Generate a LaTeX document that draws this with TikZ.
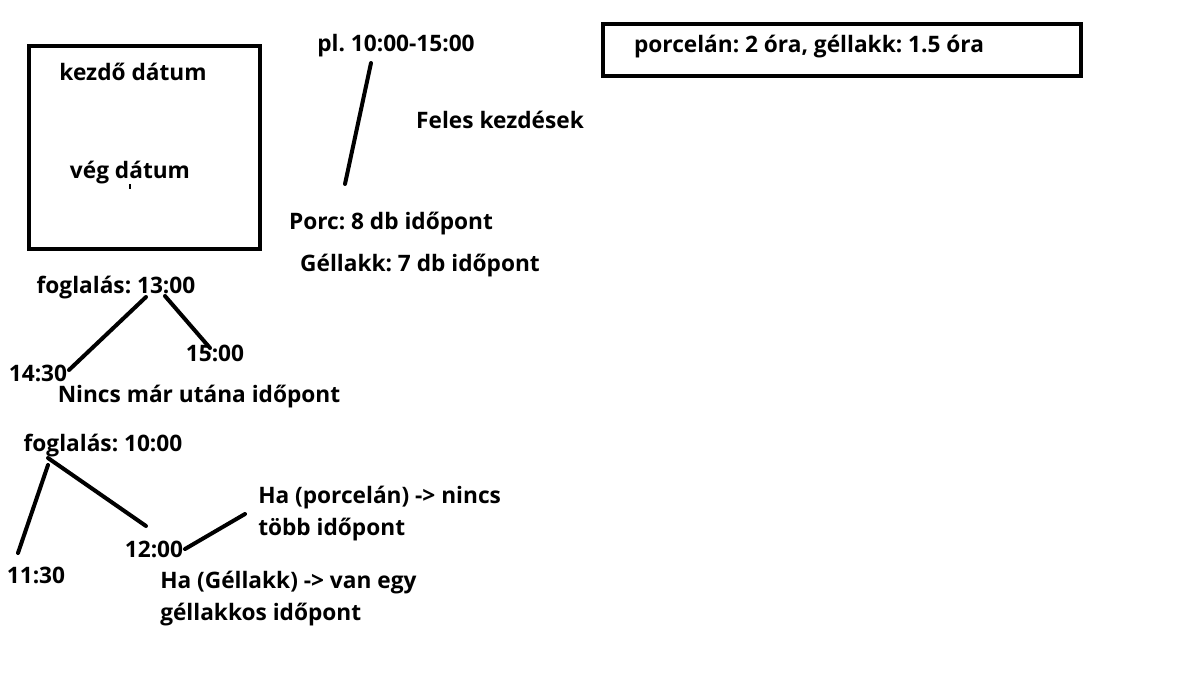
\documentclass[tikz,border=0pt]{standalone}
\usepackage{fontspec}
\setmainfont{Open Sans}
\usepackage{tikz}
\usetikzlibrary{positioning}
\frenchspacing

\begin{document}
\begin{tikzpicture}[
x=0.75pt, y=-0.75pt,
lbl/.style={font=\fontsize{17}{24}\selectfont\bfseries, inner sep=0pt, align=left},
frame/.style={draw, line width=3.4pt},
stroke/.style={line width=3pt, line cap=round}
]
\useasboundingbox (0,0) rectangle (1191,685);

% Date box
\draw[frame] (29,46) rectangle (260,249);
\node[lbl] (start) at (133,72) {kezdő dátum};
\node[lbl] (end) at (130,173) {vég dátum};
\draw[line width=1.2pt] (130,184) -- (130,189);

% Duration box
\draw[frame] (603,24) rectangle (1081,76);
\node[lbl] (dur) at (809,47) {porcelán: 2 óra, géllakk: 1.5 óra};

% Opening hours
\node[lbl] (hours) at (396,46) {pl. 10:00-15:00};
\node[lbl] (half) at (500,120) {Feles kezdések};
\node[lbl] (porc) at (391,224) {Porc: 8 db időpont};
\node[lbl] (gel) at (420,266) {Géllakk: 7 db időpont};
\coordinate (hA) at (371,63);
\coordinate (hB) at (345,184);
\draw[stroke] (hA) -- (hB);

% Booking at 13:00
\node[lbl] (b13) at (116,288) {foglalás: 13:00};
\node[lbl] (t1430) at (38,373) {14:30};
\node[lbl] (t1500) at (215,353) {15:00};
\node[lbl] (none) at (199,397) {Nincs már utána időpont};
\coordinate (b13L) at (146,297);
\coordinate (b13R) at (165,296);
\coordinate (t1430e) at (69,370);
\coordinate (t1500e) at (210,348);
\draw[stroke] (b13L) -- (t1430e);
\draw[stroke] (b13R) -- (t1500e);

% Booking at 10:00
\node[lbl] (b10) at (103,446) {foglalás: 10:00};
\node[lbl] (t1130) at (36,575) {11:30};
\node[lbl] (t1200) at (154,549) {12:00};
\node[lbl, anchor=west] (ifporc) at (258,514) {Ha (porcelán) -> nincs\\több időpont};
\node[lbl, anchor=west] (ifgel) at (160,599) {Ha (Géllakk) -> van egy\\géllakkos időpont};
\coordinate (b10L) at (48,465);
\coordinate (b10R) at (48,458);
\coordinate (t1130e) at (18,553);
\coordinate (t1200e) at (146,526);
\coordinate (t1200r) at (185,549);
\coordinate (ifporce) at (245,514);
\draw[stroke] (b10L) -- (t1130e);
\draw[stroke] (b10R) -- (t1200e);
\draw[stroke] (t1200r) -- (ifporce);
\end{tikzpicture}
\end{document}
